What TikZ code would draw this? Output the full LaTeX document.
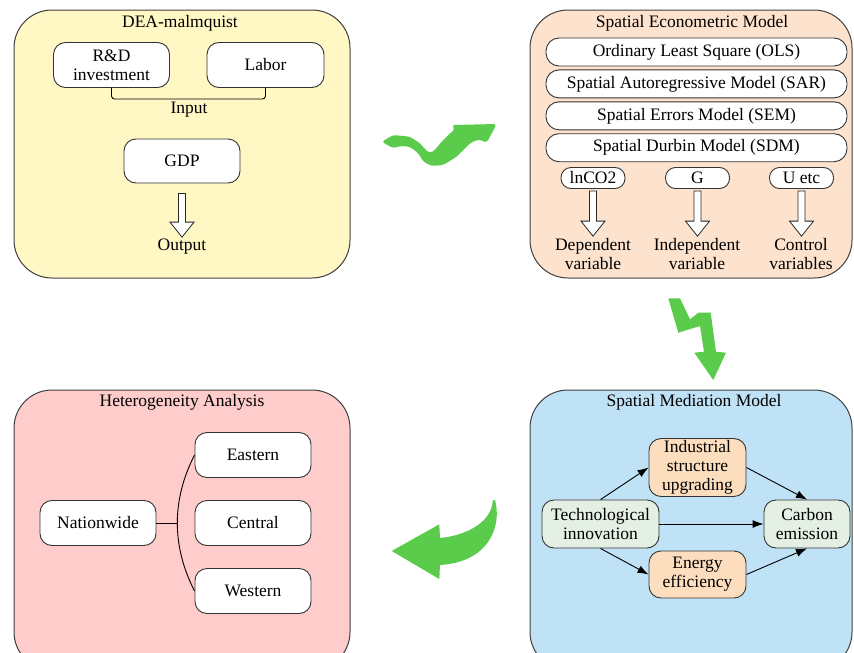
\documentclass[tikz,border=0pt]{standalone}
\usepackage{fontspec}
\setmainfont{Liberation Serif}
\usetikzlibrary{arrows.meta,positioning,calc}

\definecolor{deayellow}{HTML}{FFF7C4}
\definecolor{econpeach}{HTML}{FDE3CD}
\definecolor{medblue}{HTML}{C0E2F6}
\definecolor{hetpink}{HTML}{FFCCCC}
\definecolor{mint}{HTML}{E4F0E4}
\definecolor{apricot}{HTML}{FCDEBF}
\definecolor{leafgreen}{HTML}{5BCB4B}

\tikzstyle{panel} = [rectangle, rounded corners=38pt, draw=black!75, line width=1pt]
\tikzstyle{card} = [rectangle, rounded corners=12pt, minimum width=116pt, minimum height=45pt, inner sep=2pt, align=center, draw=black!80, line width=0.9pt, fill=white]
\tikzstyle{pill} = [rectangle, rounded corners=13pt, minimum width=301pt, minimum height=28pt, inner sep=1pt, draw=black!80, line width=0.9pt, fill=white]
\tikzstyle{tag} = [rectangle, rounded corners=10pt, minimum width=64pt, minimum height=21pt, inner sep=1pt, draw=black!80, line width=0.9pt, fill=white]
\tikzstyle{label} = [align=center, inner sep=1pt]
\tikzstyle{arrow} = [line width=0.9pt, -{Latex[length=11pt,width=8pt]}]
\tikzstyle{hollow} = [draw=black!85, fill=white, line width=0.8pt,
  to path={let \p1=(\tikztostart), \p2=(\tikztotarget) in
    (\x1-3.5pt,\y1) -- (\x1-3.5pt,\y2+15pt) -- (\x1-12pt,\y2+15pt) -- (\x1,\y2)
    -- (\x1+12pt,\y2+15pt) -- (\x1+3.5pt,\y2+15pt) -- (\x1+3.5pt,\y1) -- cycle}]

\begin{document}
\begin{tikzpicture}[x=1pt, y=-1pt, font=\fontsize{17.5pt}{19pt}\selectfont, node distance=68pt]
\useasboundingbox (0,0) rectangle (854,653);
\clip (0,0) rectangle (854,653);

% DEA-malmquist
\node (deabox)[panel, fill=deayellow, minimum width=336pt, minimum height=268pt] at (182,144) {};
\node (deatitle) at (180,23) {DEA-malmquist};
\node (rd)[card] at (111.5,65) {R\&D\\investment};
\node (labor)[card, minimum width=117pt] at (265.5,65) {Labor};
\draw [line width=0.9pt, rounded corners=3pt](rd.south) -- ++(0,11) -| (labor.south);
\node (input)[label] at (189,110) {Input};
\node (gdp)[card, minimum height=44pt] at (182,161) {GDP};
\node (output)[label] at (182,247) {Output};
\draw [hollow]([yshift=-10pt]gdp.south) to ([yshift=1pt]output.north);

% Spatial Econometric Model
\node (econbox)[panel, fill=econpeach, minimum width=322pt, minimum height=268pt] at (691,144) {};
\node (econtitle) at (692,23) {Spatial Econometric Model};
\node (ols)[pill] at (696.5,52) {Ordinary Least Square (OLS)};
\node (sar)[pill, below=3pt of ols] {Spatial Autoregressive Model (SAR)};
\node (sem)[pill, below=3pt of sar] {Spatial Errors Model (SEM)};
\node (sdm)[pill, below=3pt of sem] {Spatial Durbin Model (SDM)};

\node (lnco)[tag] at (593,178) {lnCO2};
\node (gvar)[tag] at (697.5,178) {G};
\node (uetc)[tag] at (801.5,178) {U etc};
\node (dep)[label] at (593,254) {Dependent\\variable};
\node (indep)[label] at (697,254) {Independent\\variable};
\node (ctrl)[label] at (801,254) {Control\\variables};
\draw [hollow]([yshift=-2pt]lnco.south) to ([yshift=1pt]dep.north);
\draw [hollow]([yshift=-2pt]gvar.south) to ([yshift=1pt]indep.north);
\draw [hollow]([yshift=-2pt]uetc.south) to ([yshift=1pt]ctrl.north);

% Spatial Mediation Model
\node (medbox)[panel, fill=medblue, minimum width=322pt, minimum height=280pt] at (691,530) {};
\node (medtitle) at (694,402) {Spatial Mediation Model};
\node (innov)[card, fill=mint, minimum width=117pt, minimum height=48pt] at (600.5,524) {Technological\\innovation};
\node (isu)[card, fill=apricot, minimum width=97pt, minimum height=53pt] at (697.5,467.5) {Industrial\\structure\\upgrading};
\node (carbon)[card, fill=mint, minimum width=86pt, minimum height=48pt] at (807,524) {Carbon\\emission};
\node (energy)[card, fill=apricot, minimum width=97pt, minimum height=47pt] at (697.5,574.5) {Energy\\efficiency};
\draw [arrow](innov.north) -- (isu.west);
\draw [arrow](isu.east) -- (carbon.north);
\draw [arrow](innov.east) -- (carbon.west);
\draw [arrow](innov.south) -- (energy.west);
\draw [arrow](energy.east) -- (carbon.south);

% Heterogeneity Analysis
\node (hetbox)[panel, fill=hetpink, minimum width=336pt, minimum height=280pt] at (182,530) {};
\node (hettitle) at (182,402) {Heterogeneity Analysis};
\node (nation)[card] at (98,523) {Nationwide};
\node (central)[card] at (253,523) {Central};
\node (eastern)[card, above of=central] {Eastern};
\node (western)[card, below of=central] {Western};
\coordinate (split) at (178,523);
\draw [line width=0.9pt](nation.east) -- (split);
\draw [line width=0.9pt](eastern.west) .. controls +(-23,45) and +(-23,-45) .. (western.west);

% green arrows between the panels
\fill [leafgreen, rounded corners=3pt] (381.7,141.7) -- (393.3,135) -- (410,136.7) -- (420,143.3)
  -- (428.3,152.7) -- (433.3,151.7) -- (441.7,141.7) -- (450,133.3) -- (455,129.3) -- (451.7,125)
  -- (496.7,124) -- (486.7,142.7) -- (478.3,139.3) -- (470,143.3) -- (456.7,156.7) -- (443.3,165)
  -- (431.7,166) -- (423.3,161.7) -- (418.3,153.3) -- (410,146.7) -- (400,146) -- (393.3,148.3) -- cycle;
\fill [leafgreen] (668.3,298.3) -- (680,298.3) -- (690,319.3) -- (698.3,312.7) -- (710.7,312.7)
  -- (716,351.7) -- (726,352.7) -- (713.3,380) -- (694.3,352.7) -- (704,351.7) -- (700,326)
  -- (678.3,332.7) -- cycle;
\fill [leafgreen] (495,500) .. controls (502,525) and (490,562) .. (440,565) -- (439.3,579)
  -- (391.7,551) -- (439.3,524.3) -- (440,538) .. controls (470,535) and (492,520) .. (492.7,500.7) -- cycle;
\end{tikzpicture}
\end{document}
